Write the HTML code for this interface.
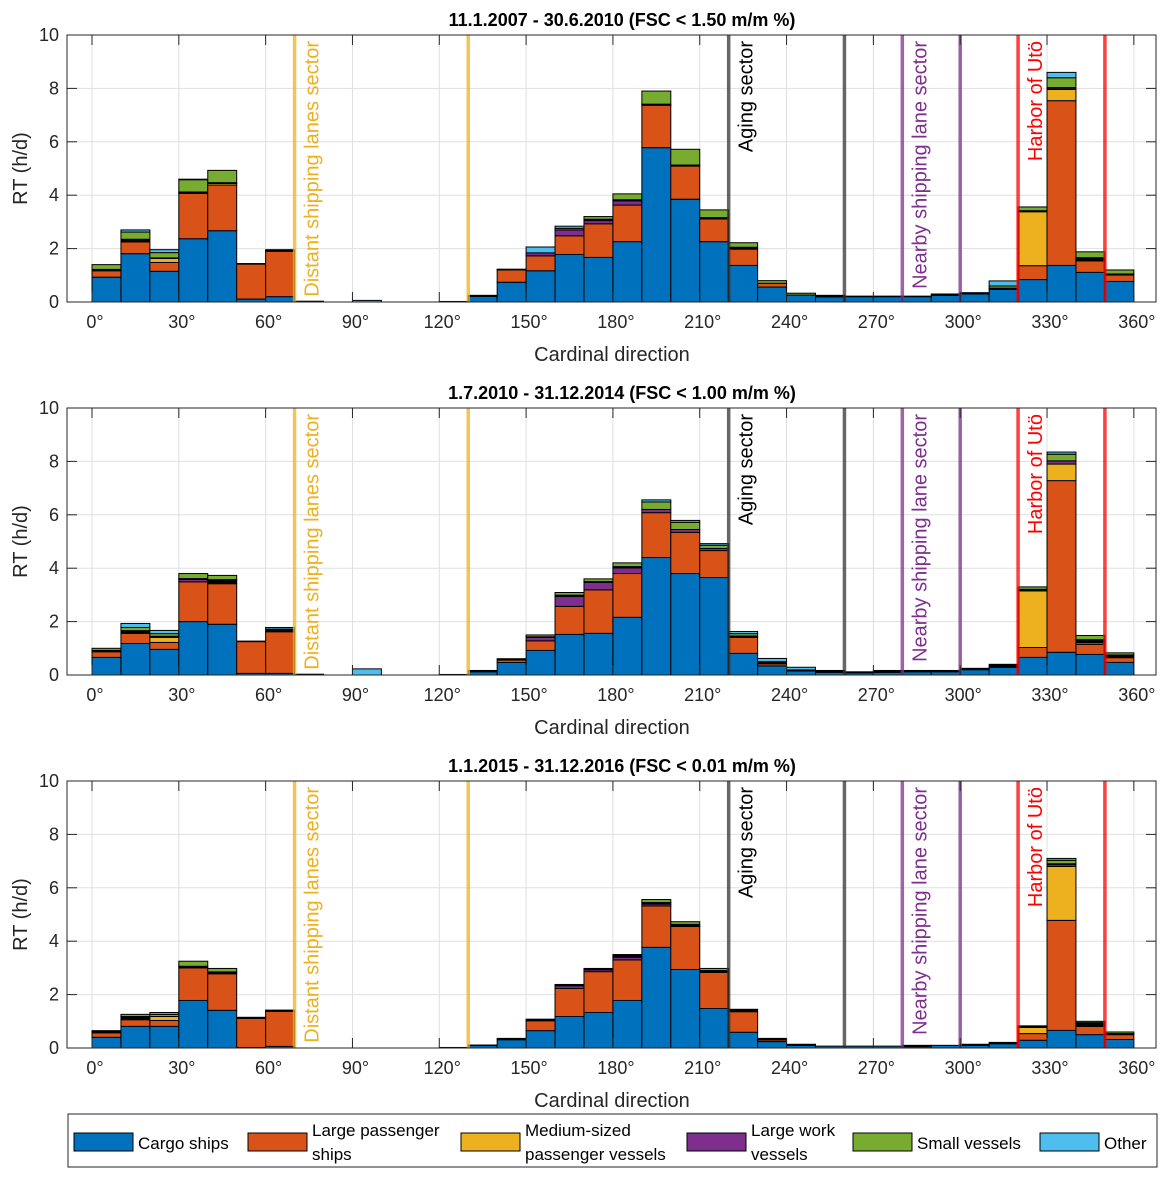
<!DOCTYPE html>
<html><head><meta charset="utf-8"><style>
body{margin:0;background:#fff;}
svg{display:block;font-family:"Liberation Sans",Arial,sans-serif;}
</style></head><body>
<svg id="chart" width="1167" height="1178" viewBox="0 0 1167 1178" xmlns="http://www.w3.org/2000/svg"></svg>
<script>
// ----- data -----
const binStarts = [0,10,20,30,40,50,60,70,80,90,100,110,120,130,140,150,160,170,180,190,200,210,220,230,240,250,260,270,280,290,300,310,320,330,340,350];
const titles = ["11.1.2007 - 30.6.2010 (FSC < 1.50 m/m %)","1.7.2010 - 31.12.2014 (FSC < 1.00 m/m %)","1.1.2015 - 31.12.2016 (FSC < 0.01 m/m %)"];
const yTicks = [0,2,4,6,8,10];
const xTicks = [0,30,60,90,120,150,180,210,240,270,300,330,360];
const seriesNames = ["cargo","large","medium","work","unknown","small","other"];
const seriesColors = ["#0072BD","#D95319","#EDB120","#7E2F8E","#000000","#77AC30","#4DBEEE"];

const p1Cargo  = [.93,1.81,1.15,2.37,2.67,.11,.2,0,0,0,0,0,0,.21,.74,1.17,1.78,1.67,2.26,5.78,3.85,2.26,1.37,.56,.26,.19,.2,.2,.2,.25,.3,.47,.84,1.37,1.11,.77];
const p1Large  = [.24,.44,.33,1.7,1.71,1.31,1.7,0,0,0,0,0,0,0,.46,.56,.7,1.26,1.37,1.59,1.24,.85,.61,.14,0,0,0,0,0,0,0,.03,.52,6.17,.43,.24];
const p1Medium = [0,0,.15,0,.06,0,0,0,0,0,0,0,0,0,0,0,0,0,0,0,0,0,0,0,0,0,0,0,0,0,0,0,2.02,.42,0,0];
const p1Work   = [0,0,0,0,0,0,0,0,0,0,0,0,0,0,0,.11,.22,.12,.16,0,0,0,0,0,0,0,0,0,0,0,0,0,0,.05,0,0];
const p1Unk    = [.05,.1,.02,.05,.03,.02,.06,.03,0,0,0,0,.02,.04,.03,0,0,.05,.04,.04,.04,.05,.07,0,0,.06,.02,.02,.02,.05,.05,.02,.04,.02,.12,.04];
const p1Small  = [.18,.27,.2,.46,.46,0,0,0,0,0,0,0,0,0,0,0,.06,.1,.22,.49,.59,.29,.17,.1,.07,0,0,0,0,0,0,.08,.14,.37,.22,.15];
const p1Other  = [0,.08,.11,.02,0,0,0,0,0,.06,0,0,0,0,0,.22,.08,0,0,0,0,0,0,0,0,0,0,0,0,0,0,.19,0,.2,0,0];

const p2Cargo  = [.66,1.18,.96,2.0,1.9,.06,.06,0,0,0,0,0,0,.12,.47,.92,1.52,1.56,2.16,4.4,3.8,3.65,.81,.34,.15,.1,.08,.1,.12,.12,.2,.29,.66,.85,.77,.47];
const p2Large  = [.21,.38,.26,1.49,1.52,1.19,1.56,0,0,0,0,0,0,0,.09,.36,1.05,1.63,1.64,1.68,1.54,1.01,.6,.08,0,0,0,0,0,0,0,0,.37,6.43,.38,.18];
const p2Medium = [0,0,.19,0,0,0,0,0,0,0,0,0,0,0,0,0,0,0,0,0,0,0,0,0,0,0,0,0,0,0,0,0,2.12,.62,.06,0];
const p2Work   = [0,0,0,.09,0,0,0,0,0,0,0,0,0,0,0,.13,.37,.28,.21,.12,.11,.08,0,0,0,0,0,0,0,0,0,0,0,.12,0,0];
const p2Unk    = [.05,.1,.04,.03,.15,.02,.1,.03,0,0,0,0,.02,.05,.05,.02,.05,.03,.05,0,0,0,.05,.08,.04,.07,.04,.07,.05,.05,.05,.11,.06,0,.11,.1];
const p2Small  = [.08,.12,.1,.19,.16,0,0,0,0,0,0,0,0,0,0,.07,.1,.1,.14,.28,.27,.12,.09,0,0,0,0,0,0,0,0,0,.09,.25,.16,.08];
const p2Other  = [0,.15,.12,0,0,0,.06,0,0,.23,0,0,0,0,0,0,0,0,0,.08,.07,.06,.08,.12,.1,0,0,0,0,0,0,0,0,.08,0,0];

const p3Cargo  = [.4,.81,.81,1.78,1.41,.02,.06,0,0,0,0,0,0,.1,.31,.65,1.18,1.33,1.78,3.77,2.94,1.48,.59,.24,.1,.07,.07,.07,.05,.1,.1,.16,.29,.66,.5,.32];
const p3Large  = [.17,.25,.22,1.22,1.37,1.09,1.31,0,0,0,0,0,0,0,0,.37,1.05,1.53,1.52,1.55,1.61,1.35,.77,.06,0,0,0,0,0,0,0,0,.25,4.12,.31,.18];
const p3Medium = [0,0,.15,0,0,0,0,0,0,0,0,0,0,0,0,0,0,0,0,0,0,0,0,0,0,0,0,0,0,0,0,0,.23,2.02,0,0];
const p3Work   = [0,0,0,0,0,0,0,0,0,0,0,0,0,0,0,0,.1,.07,.1,.07,0,0,0,0,0,0,0,0,0,0,0,0,0,.07,0,0];
const p3Unk    = [.08,.12,0,.06,.07,.04,.05,0,0,0,0,0,.02,.01,.05,.06,.05,.05,.1,.06,.08,.07,.09,.06,.04,0,0,0,.05,0,.04,.05,.06,.03,.14,.04];
const p3Small  = [0,.08,.08,.19,.13,0,0,0,0,0,0,0,0,0,0,0,0,0,0,.11,.1,.08,0,0,0,0,0,0,0,0,0,0,0,.13,.05,.06];
const p3Other  = [0,0,.07,0,0,0,0,0,0,0,0,0,0,0,0,0,0,0,0,0,0,0,0,0,0,0,0,0,0,0,0,0,0,.07,0,0];

const panelData = [
  [p1Cargo,p1Large,p1Medium,p1Work,p1Unk,p1Small,p1Other],
  [p2Cargo,p2Large,p2Medium,p2Work,p2Unk,p2Small,p2Other],
  [p3Cargo,p3Large,p3Medium,p3Work,p3Unk,p3Small,p3Other]
];
const sectorAngles = [70,130,220,260,280,300,320,350];
const sectorColors = ["#EDB120","#EDB120","#333333","#333333","#7E2F8E","#7E2F8E","#FF0000","#FF0000"];
const sectorLabels = ["Distant shipping lanes sector","Aging sector","Nearby shipping lane sector","Harbor of Utö"];
const sectorLabelAngles = [70,220,280,320];
const sectorLabelColors = ["#EDB120","#000000","#7E2F8E","#FF0000"];

// ----- layout -----
const NS="http://www.w3.org/2000/svg";
const svg=document.getElementById('chart');
const L=67,R=1156;
const panelTops=[35,408,781];
const PH=267;
function xs(d){return 92+d*2.894;}
function mk(tag,attrs,parent){const e=document.createElementNS(NS,tag);for(const k in attrs)e.setAttribute(k,attrs[k]);(parent||svg).appendChild(e);return e;}

panelData.forEach((series,pi)=>{
  const top=panelTops[pi],bot=top+PH;
  const ys=v=>bot-v*PH/10;
  const g=mk('g',{});
  
  
  mk('rect',{x:L,y:top,width:R-L,height:PH,fill:'#fff'},g);
  xTicks.forEach(t=>{const l=mk('line',{x1:xs(t),x2:xs(t),y1:top,y2:bot,stroke:'#dfdfdf','stroke-width':1},g);
    });
  yTicks.forEach(t=>{const l=mk('line',{x1:L,x2:R,y1:ys(t),y2:ys(t),stroke:'#dfdfdf','stroke-width':1},g);
    });
  binStarts.forEach((b,bi)=>{
    let acc=0;
    series.forEach((arr,si)=>{
      const v=arr[bi]; if(!v) return;
      const y1=ys(acc+v),y0=ys(acc);
      const r=mk('rect',{x:xs(b),y:y1,width:xs(b+10)-xs(b),height:Math.max(y0-y1,0.5),fill:seriesColors[si],stroke:'#000','stroke-width':1},g);
      
      
      acc+=v;
    });
  });
  sectorAngles.forEach((a,i)=>{
    const l=mk('line',{x1:xs(a),x2:xs(a),y1:top,y2:bot,stroke:sectorColors[i],'stroke-width':3.5,'stroke-opacity':0.75},g);
    
    
  });
  sectorLabels.forEach((s,i)=>{
    const x=xs(sectorLabelAngles[i])+24;
    const t=mk('text',{x:0,y:0,transform:`translate(${x},${top+6}) rotate(-90)`,'text-anchor':'end','font-size':20,fill:sectorLabelColors[i]},g);
    t.textContent=s;
    
    
  });
  mk('rect',{x:L,y:top,width:R-L,height:PH,fill:'none',stroke:'#262626','stroke-width':1},g);
  xTicks.forEach(t=>{
    mk('line',{x1:xs(t),x2:xs(t),y1:bot,y2:bot-10,stroke:'#262626'},g);
    mk('line',{x1:xs(t),x2:xs(t),y1:top,y2:top+10,stroke:'#262626'},g);
    const tx=mk('text',{x:xs(t)+3,y:bot+26,'text-anchor':'middle','font-size':18,fill:'#262626'},g);
    tx.textContent=t+'°';
    
    
  });
  yTicks.forEach(t=>{
    mk('line',{x1:L,x2:L+10,y1:ys(t),y2:ys(t),stroke:'#262626'},g);
    mk('line',{x1:R,x2:R-10,y1:ys(t),y2:ys(t),stroke:'#262626'},g);
    const ty=mk('text',{x:L-8,y:ys(t)+6,'text-anchor':'end','font-size':18,fill:'#262626'},g);
    ty.textContent=t;
    
    
  });
  const xl=mk('text',{x:612,y:bot+59,'text-anchor':'middle','font-size':20,fill:'#262626'},g);
  xl.textContent='Cardinal direction';
  
  
  const yl=mk('text',{x:0,y:0,transform:`translate(27,${top+PH/2}) rotate(-90)`,'text-anchor':'middle','font-size':20,fill:'#262626'},g);
  yl.textContent='RT (h/d)';
  
  
  const ti=mk('text',{x:622,y:top-9,'text-anchor':'middle','font-size':18,'font-weight':'bold',fill:'#000'},g);
  ti.textContent=titles[pi];
  
  
});

const lg=mk('g',{});


mk('rect',{x:68,y:1114,width:1089,height:53,fill:'#fff',stroke:'#262626','stroke-width':1},lg);
const legendItems=[
  {c:0,x:74,lines:["Cargo ships"]},
  {c:1,x:248,lines:["Large passenger","ships"]},
  {c:2,x:461,lines:["Medium-sized","passenger vessels"]},
  {c:3,x:687,lines:["Large work","vessels"]},
  {c:5,x:853,lines:["Small vessels"]},
  {c:6,x:1040,lines:["Other"]}
];
legendItems.forEach(it=>{
  const e=mk('g',{},lg);
  
  
  mk('rect',{x:it.x,y:1133,width:59,height:18,fill:seriesColors[it.c],stroke:'#000'},e);
  if(it.lines.length===1){
    const t=mk('text',{x:it.x+64,y:1149,'font-size':17,fill:'#000'},e);t.textContent=it.lines[0];
  }else{
    it.lines.forEach((s,k)=>{const t=mk('text',{x:it.x+64,y:1136+k*24,'font-size':17,fill:'#000'},e);t.textContent=s;});
  }
});
</script>
</body></html>
